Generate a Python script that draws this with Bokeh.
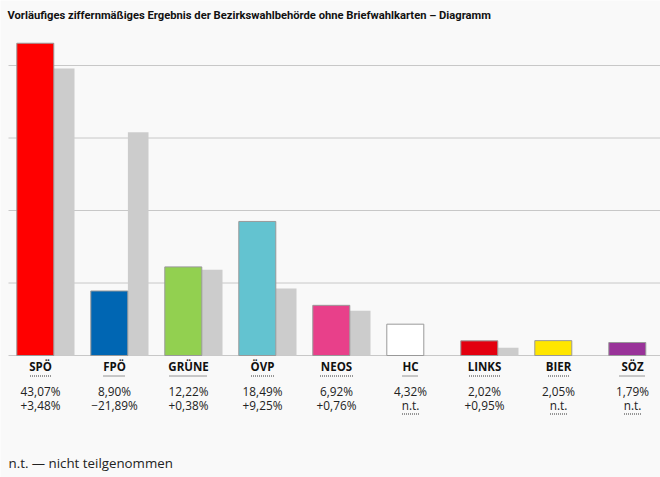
from bokeh.plotting import figure
from bokeh.models import ColumnDataSource, Range1d
from bokeh.core.properties import value
from bokeh.embed import file_html
from bokeh.resources import INLINE

# ---- data ----
parties = ["SPÖ", "FPÖ", "GRÜNE", "ÖVP", "NEOS", "HC", "LINKS", "BIER", "SÖZ"]
results = [43.07, 8.90, 12.22, 18.49, 6.92, 4.32, 2.02, 2.05, 1.79]
changes = [3.48, -21.89, 0.38, 9.25, 0.76, None, 0.95, None, None]
colors = ["#ff0000", "#0066b3", "#92d050", "#63c3d0", "#e8408a",
          "#ffffff", "#e3000f", "#ffe600", "#993399"]
grid_values = [0, 10, 20, 30, 40]
title_text = "Vorläufiges ziffernmäßiges Ergebnis der Bezirkswahlbehörde ohne Briefwahlkarten – Diagramm"
footnote_text = "n.t. — nicht teilgenommen"

# ---- layout (pixels) ----
W, H = 660, 477
SLOT = 74.0           # px per category
X0 = 40.0             # canvas x of first category centre
PXY = 7.25            # px per percentage point
BASE = 355.0          # canvas y of the 0 line
FONT = "Open Sans"

def fmt(v):
    return f"{v:.2f}".replace(".", ",") + "%"

def fmt_change(v):
    if v is None:
        return "n.t."
    s = f"{abs(v):.2f}".replace(".", ",") + "%"
    return ("+" if v >= 0 else "−") + s

previous = [None if c is None else r - c for r, c in zip(results, changes)]

x = list(range(len(parties)))
ux = 1.0 / SLOT
uy = 1.0 / PXY

p = figure(width=W, height=H, output_backend="svg", toolbar_location=None,
           x_range=Range1d(-X0 * ux, (W - X0) * ux),
           y_range=Range1d(-(H - BASE) * uy, BASE * uy),
           min_border=0)
p.axis.visible = False
p.grid.visible = False
p.outline_line_color = None
p.background_fill_color = "#f9f9f9"
p.border_fill_color = "#f9f9f9"

def xd(page_x):  # page x -> data
    return (page_x - X0) * ux

def yd(page_y):  # page y -> data
    return (BASE - page_y) * uy

# gridlines
gx0 = xd(8)
gx1 = p.x_range.end
p.segment(x0=[gx0] * len(grid_values), x1=[gx1] * len(grid_values),
          y0=grid_values, y1=grid_values, line_color="#c8c8c8", line_width=1)

# previous-result bars
px_ = [i + 23.7 * ux for i, v in zip(x, previous) if v is not None]
pv = [v for v in previous if v is not None]
p.vbar(x=px_, top=pv, bottom=0, width=20.6 * ux, fill_color="#cccccc", line_color=None)

# current bars
src = ColumnDataSource(dict(x=[i - 5.2 * ux for i in x], top=results, color=colors))
p.vbar(x="x", top="top", bottom=0, width=37 * ux, fill_color="color",
       line_color="#999999", line_width=1, source=src)

# labels below
p.text(x=x, y=[yd(366)] * len(x), text=parties, text_font=value(FONT),
       text_font_style="bold", text_font_size="11.5px", text_align="center",
       text_baseline="middle", text_color="#111111")
ul_w = [21, 22, 38, 23, 33, 16, 31, 21, 26]
p.segment(x0=[i - w / 2 * ux for i, w in zip(x, ul_w)],
          x1=[i + w / 2 * ux for i, w in zip(x, ul_w)],
          y0=[yd(375.5)] * len(x), y1=[yd(375.5)] * len(x),
          line_color="#333333", line_width=1, line_dash="1 1")

p.text(x=x, y=[yd(390)] * len(x), text=[fmt(v) for v in results],
       text_font=value(FONT), text_font_size="11.8px", text_align="center",
       text_baseline="middle", text_color="#222222")
p.text(x=x, y=[yd(404)] * len(x), text=[fmt_change(v) for v in changes],
       text_font=value(FONT), text_font_size="11.8px", text_align="center",
       text_baseline="middle", text_color="#222222")
nt_x = [i for i, c in zip(x, changes) if c is None]
p.segment(x0=[i - 8.5 * ux for i in nt_x], x1=[i + 8.5 * ux for i in nt_x],
          y0=[yd(413.5)] * len(nt_x), y1=[yd(413.5)] * len(nt_x),
          line_color="#333333", line_width=1, line_dash="1 1")

# title & footnote
p.text(x=[xd(7)], y=[yd(15)], text=[title_text], text_font=value("Roboto"),
       text_font_style="bold", text_font_size="11.2px", text_align="left",
       text_baseline="middle", text_color="#111111")
p.text(x=[xd(8)], y=[yd(462)], text=[footnote_text], text_font=value(FONT),
       text_font_size="13.3px", text_align="left", text_baseline="middle",
       text_color="#222222")

open("out.html", "w").write(file_html(p, INLINE))
